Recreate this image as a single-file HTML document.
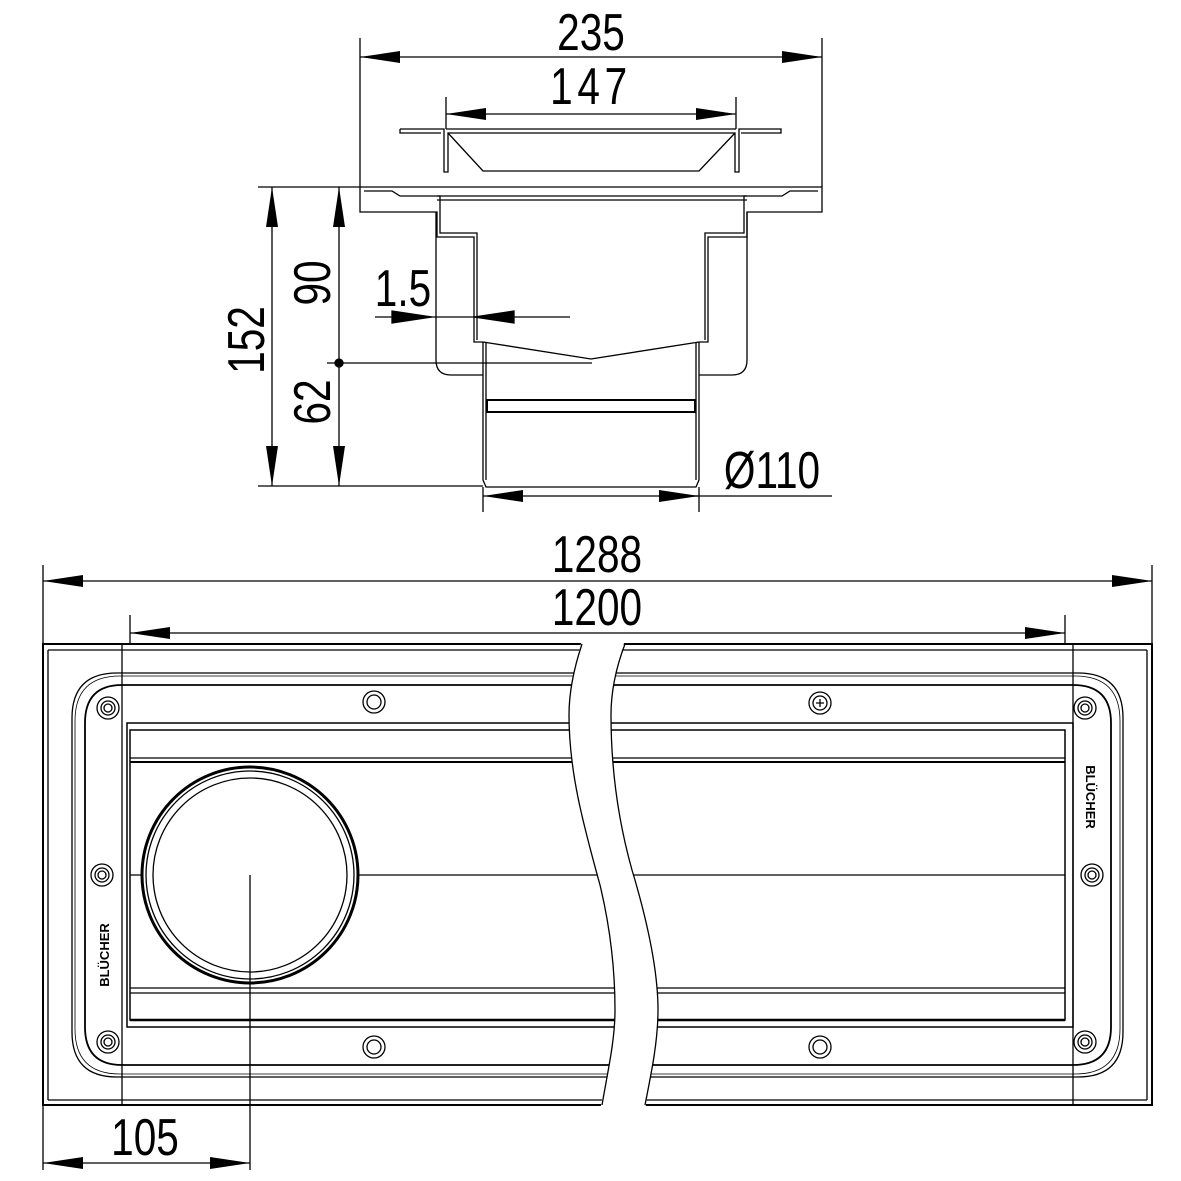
<!DOCTYPE html>
<html><head><meta charset="utf-8"><style>
html,body{margin:0;padding:0;background:#fff}
svg{display:block}
text{font-family:"Liberation Sans",sans-serif;fill:#000}
</style></head><body>
<svg width="1181" height="1181" viewBox="0 0 1181 1181" xmlns="http://www.w3.org/2000/svg">
<defs>
<marker id="a" viewBox="0 0 40 12" refX="40" refY="6" markerWidth="40" markerHeight="12" markerUnits="userSpaceOnUse" orient="auto-start-reverse"><path d="M40 6 L0 0 L0 12 Z" fill="#000"/></marker>
</defs>
<g fill="none" stroke="#000" stroke-width="1.3">
<line x1="360" y1="38" x2="360" y2="187"/>
<line x1="822" y1="38" x2="822" y2="187"/>
<line x1="446" y1="97" x2="446" y2="129"/>
<line x1="736" y1="97" x2="736" y2="129"/>
<line x1="258" y1="187" x2="360" y2="187"/>
<line x1="327" y1="363" x2="592" y2="363"/>
<line x1="258" y1="486" x2="483" y2="486"/>
<line x1="483" y1="487" x2="483" y2="512"/>
<line x1="699" y1="487" x2="699" y2="512"/>
<line x1="360" y1="57" x2="822" y2="57" marker-start="url(#a)" marker-end="url(#a)"/>
<line x1="446" y1="114" x2="736" y2="114" marker-start="url(#a)" marker-end="url(#a)"/>
<line x1="272" y1="187" x2="272" y2="486" marker-start="url(#a)" marker-end="url(#a)"/>
<line x1="339" y1="187" x2="339" y2="363" marker-start="url(#a)"/>
<line x1="339" y1="363" x2="339" y2="486" marker-end="url(#a)"/>
<line x1="375" y1="317" x2="570" y2="317"/>
<path d="M432 317 L392 311 L392 323 Z" fill="#000"/>
<path d="M474 317 L514 311 L514 323 Z" fill="#000"/>
<line x1="483" y1="496" x2="832" y2="496" marker-start="url(#a)"/>
<line x1="699" y1="496" x2="660" y2="496" marker-start="url(#a)"/>
<circle cx="339" cy="363" r="4" fill="#000"/>
<path d="M400 129 H444 V172 H448 V133 H735 V172 H739 V129 H781 V133 H741" />
<path d="M400 129 V133 H441"/>
<line x1="446" y1="129" x2="736" y2="129"/>
<path d="M448 133 L483 171 H699 L735 133"/>
<path d="M360 187 H822 V212 H747 V237 H708 V342 H699"/>
<path d="M360 187 V212 H437 V237 H474 V342 H483"/>
<path d="M364 191 H392 L400 196 H440 V233 H477 V340"/>
<path d="M818 191 H790 L782 196 H744 V233 H705 V340"/>
<line x1="437" y1="196" x2="747" y2="196"/>
<line x1="437" y1="200" x2="747" y2="200"/>
<path d="M436 212 V360 Q436 375 451 375 H483"/>
<path d="M747 212 V360 Q747 375 732 375 H699"/>
<path d="M483 342 V480 L486 487 H696 L699 480 V342"/>
<path d="M486 342 V480"/><path d="M696 342 V480"/>
<path d="M483 342 L591 359 L699 342"/>
<rect x="487" y="400" width="208" height="12" stroke-width="2"/>
<line x1="43" y1="565" x2="43" y2="1170"/>
<line x1="1152" y1="565" x2="1152" y2="645"/>
<line x1="130" y1="615" x2="130" y2="645"/>
<line x1="1065" y1="615" x2="1065" y2="645"/>
<line x1="43" y1="581" x2="1152" y2="581" marker-start="url(#a)" marker-end="url(#a)"/>
<line x1="130" y1="633" x2="1065" y2="633" marker-start="url(#a)" marker-end="url(#a)"/>
<line x1="43" y1="1163" x2="250" y2="1163" marker-start="url(#a)" marker-end="url(#a)"/>
<rect x="43" y="644" width="1109" height="461" stroke-width="2"/>
<line x1="48" y1="650" x2="1147" y2="650"/>
<line x1="48" y1="1100" x2="1147" y2="1100"/>
<line x1="48" y1="650" x2="48" y2="1100"/>
<line x1="1147" y1="650" x2="1147" y2="1100"/>
<line x1="122" y1="644" x2="122" y2="1105"/>
<line x1="1073" y1="644" x2="1073" y2="1105"/>
<path d="M117 673 H1078 Q1123 673 1123 718 V1032 Q1123 1077 1078 1077 H117 Q72 1077 72 1032 V718 Q72 673 117 673 Z"/>
<path d="M120 676 H1075 Q1120 676 1120 721 V1029 Q1120 1074 1075 1074 H120 Q75 1074 75 1029 V721 Q75 676 120 676 Z" stroke-width="0.8"/>
<path d="M122 685 H1073 Q1111 685 1111 723 V1027 Q1111 1065 1073 1065 H122 Q85 1065 85 1027 V723 Q85 685 122 685 Z" stroke-width="1.8"/>
<path d="M127 723 H1073 V1027 H127 Z" stroke-width="1.5"/>
<rect x="130" y="730" width="935" height="290" stroke-width="1.5"/>
<line x1="130" y1="1020" x2="1065" y2="1020" stroke-width="2.5"/>
<line x1="130" y1="758" x2="1065" y2="758"/>
<line x1="130" y1="762" x2="1065" y2="762" stroke-width="2"/>
<line x1="130" y1="988" x2="1065" y2="988"/>
<line x1="130" y1="993" x2="1065" y2="993"/>
<line x1="130" y1="875" x2="1065" y2="875"/>
<circle cx="250" cy="875" r="108" fill="#fff" stroke-width="3"/>
<circle cx="250" cy="875" r="104"/>
<circle cx="250" cy="875" r="97"/>
<line x1="250" y1="875" x2="250" y2="1170"/>
<g>
<circle cx="108" cy="708" r="11"/><circle cx="108" cy="708" r="7"/><circle cx="108" cy="708" r="4"/>
<circle cx="102" cy="875" r="11"/><circle cx="102" cy="875" r="7"/><circle cx="102" cy="875" r="4"/>
<circle cx="108" cy="1042" r="11"/><circle cx="108" cy="1042" r="7"/><circle cx="108" cy="1042" r="4"/>
<circle cx="1085" cy="708" r="11"/><circle cx="1085" cy="708" r="7"/><circle cx="1085" cy="708" r="4"/>
<circle cx="1092" cy="875" r="11"/><circle cx="1092" cy="875" r="7"/><circle cx="1092" cy="875" r="4"/>
<circle cx="1085" cy="1042" r="11"/><circle cx="1085" cy="1042" r="7"/><circle cx="1085" cy="1042" r="4"/>
<circle cx="374" cy="702" r="11"/><circle cx="374" cy="702" r="7"/>
<circle cx="374" cy="1047" r="11"/><circle cx="374" cy="1047" r="7"/>
<circle cx="820" cy="703" r="11"/><circle cx="820" cy="703" r="7"/>
<path d="M816 703 H824 M820 699 V707"/>
<circle cx="820" cy="1047" r="11"/><circle cx="820" cy="1047" r="7"/>
</g>
<path d="M582 640 C575 665 569 690 569 715 C569 770 582 820 600 885 C612 935 615 975 615 1010 C615 1040 608 1070 600 1110 L645 1110 C652 1070 658 1040 658 1010 C658 975 650 930 632 870 C618 820 611 770 611 715 C611 690 617 665 625 640 Z" fill="#fff" stroke="none"/>
<path d="M582 644 C575 665 569 690 569 715 C569 770 582 820 600 885 C612 935 615 975 615 1010 C615 1040 608 1070 602 1105"/>
<path d="M625 644 C617 665 611 690 611 715 C611 770 618 820 632 870 C650 930 658 975 658 1010 C658 1040 652 1070 645 1105"/>
</g>
<g font-size="52">
<text x="591" y="50" text-anchor="middle" transform="translate(591 0) scale(0.78 1) translate(-591 0)">235</text>
<text x="591" y="104" text-anchor="middle" transform="translate(591 0) scale(0.78 1) translate(-591 0)" letter-spacing="6">147</text>
<text x="403" y="306" text-anchor="middle" transform="translate(403 0) scale(0.78 1) translate(-403 0)">1.5</text>
<text x="772" y="488" text-anchor="middle" transform="translate(772 0) scale(0.78 1) translate(-772 0)">Ø110</text>
<text x="597" y="572" text-anchor="middle" transform="translate(597 0) scale(0.78 1) translate(-597 0)">1288</text>
<text x="597" y="625" text-anchor="middle" transform="translate(597 0) scale(0.78 1) translate(-597 0)">1200</text>
<text x="145" y="1155" text-anchor="middle" transform="translate(145 0) scale(0.78 1) translate(-145 0)">105</text>
<text transform="translate(264 340) rotate(-90) scale(0.78 1)" text-anchor="middle">152</text>
<text transform="translate(330 283) rotate(-90) scale(0.78 1)" text-anchor="middle">90</text>
<text transform="translate(330 402) rotate(-90) scale(0.78 1)" text-anchor="middle">62</text>
</g>
<g font-size="13" font-weight="bold">
<text transform="translate(109 955) rotate(-90)" text-anchor="middle">BLÜCHER</text>
<text transform="translate(1086 797) rotate(90)" text-anchor="middle">BLÜCHER</text>
</g>
</svg>
</body></html>
